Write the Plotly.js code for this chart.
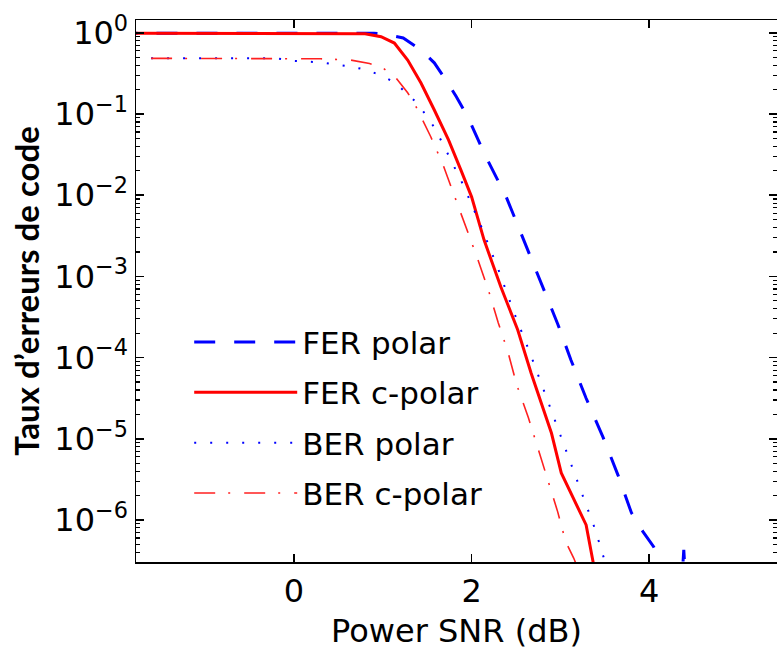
<!DOCTYPE html>
<html>
<head>
<meta charset="utf-8">
<script src="https://cdn.plot.ly/plotly-3.0.1.min.js"></script>
<style>html,body{margin:0;padding:0;background:#fff;}#chart{width:777px;height:650px;}</style>
</head>
<body>
<div id="chart"></div>
<script>
// ---- Data ----
const ferPolarX = [-2, 0.9, 1.01, 1.23, 1.43, 1.58, 1.71, 1.83, 1.96, 2.14, 2.39, 2.61, 2.81, 2.97, 3.12, 3.29, 3.48, 3.65, 3.80, 3.93, 4.05, 4.2, 4.3, 4.39, 4.48];
const ferPolarY = [0.99, 0.99, 0.966, 0.863, 0.617, 0.427, 0.263, 0.162, 0.0912, 0.0331, 0.00955, 0.0024, 7.1e-4, 2.6e-4, 9.3e-5, 3.16e-5, 1.05e-5, 3.55e-6, 1.23e-6, 7.2e-7, 4.7e-7, 2e-7, 1e-8, 4.3e-7, 1e-8];

const ferCpolarX = [-2, 0.6, 0.8, 0.98, 1.13, 1.28, 1.43, 1.58, 1.74, 1.88, 2.0, 2.14, 2.33, 2.52, 2.67, 2.90, 3.01, 3.29, 3.40];
const ferCpolarY = [0.99, 0.99, 0.975, 0.895, 0.748, 0.462, 0.241, 0.112, 0.0479, 0.0204, 0.00955, 0.00282, 7.4e-4, 2.19e-4, 6.46e-5, 1.17e-5, 3.8e-6, 8.7e-7, 2e-7];

const berPolarX = [-1.61, -0.2, -0.03, 0.30, 0.65, 0.82, 0.99, 1.14, 1.40, 1.59, 1.75, 1.90, 2.11, 2.30, 2.48, 2.67, 2.85, 3.03, 3.21, 3.39, 3.49, 3.6];
const berPolarY = [0.485, 0.485, 0.453, 0.433, 0.383, 0.348, 0.296, 0.243, 0.132, 0.066, 0.0295, 0.0138, 0.00407, 0.00123, 3.55e-4, 1.05e-4, 3.09e-5, 8.9e-6, 2.63e-6, 7.76e-7, 3.39e-7, 1e-7];

const berCpolarX = [-1.61, 0.30, 0.64, 0.85, 1.01, 1.15, 1.28, 1.37, 1.54, 1.68, 1.81, 1.95, 2.06, 2.19, 2.30, 2.41, 2.51, 2.64, 2.74, 2.86, 2.97, 3.06, 3.15, 3.22];
const berCpolarY = [0.485, 0.479, 0.462, 0.42, 0.363, 0.277, 0.183, 0.126, 0.0525, 0.0235, 0.0096, 0.0038, 0.00174, 6.76e-4, 2.69e-4, 1.17e-4, 4.57e-5, 1.82e-5, 8.1e-6, 3.24e-6, 1.26e-6, 5.4e-7, 3.4e-7, 2.2e-7];

const seriesNames = ["FER polar", "FER c-polar", "BER polar", "BER c-polar"];

const xTickVals = [0, 2, 4];
const xTickText = ["0", "2", "4"];
const yTickVals = [1e-6, 1e-5, 1e-4, 1e-3, 1e-2, 1e-1, 1];
const yTickText = ["10<sup>−6</sup>", "10<sup>−5</sup>", "10<sup>−4</sup>", "10<sup>−3</sup>", "10<sup>−2</sup>", "10<sup>−1</sup>", "10<sup>0</sup>"];

// minor tick positions (2..9 x each decade)
const yMinorVals = [];
for (let e = -7; e <= 0; e++) for (let m = 2; m <= 9; m++) yMinorVals.push(m * Math.pow(10, e));

const FONT = "DejaVu Sans";

const traces = [
  {x: ferPolarX, y: ferPolarY, name: seriesNames[0], mode: "lines", legendgroup: "a",
   line: {color: "#0000ff", width: 3, dash: "21px,19px"}},
  {x: ferCpolarX, y: ferCpolarY, name: seriesNames[1], mode: "lines", legendgroup: "b",
   line: {color: "#ff0000", width: 3}},
  {x: berPolarX, y: berPolarY, name: seriesNames[2], mode: "lines", legendgroup: "c",
   line: {color: "#0000ff", width: 2, dash: "2px,14px"}},
  {x: berCpolarX, y: berCpolarY, name: seriesNames[3], mode: "lines", legendgroup: "d",
   line: {color: "#ff2020", width: 1.6, dash: "21px,13px,2px,14px"}}
];

const layout = {
  width: 777, height: 650,
  margin: {l: 136, r: 0, t: 20, b: 88},
  paper_bgcolor: "#fff", plot_bgcolor: "#fff",
  font: {family: FONT, size: 31, color: "#000"},
  showlegend: true,
  legend: {x: 0.083, y: 0.455, xanchor: "left", yanchor: "top", bgcolor: "rgba(0,0,0,0)",
           font: {family: FONT, size: 31, color: "#000"}, itemwidth: 103,
           traceorder: "grouped", tracegroupgap: 7},
  xaxis: {range: [-1.78, 5.44], tickvals: xTickVals, ticktext: xTickText,
          ticks: "inside", ticklen: 8, tickwidth: 1.5, tickcolor: "#000",
          showline: true, linecolor: "#000", linewidth: 1.5, mirror: "ticks",
          showgrid: false, zeroline: false,
          tickfont: {family: FONT, size: 32},
          title: {text: "Power SNR (dB)", font: {family: FONT, size: 32}, standoff: 12}},
  yaxis: {type: "log", range: [-6.517, 0.158], tickvals: yTickVals, ticktext: yTickText,
          ticks: "inside", ticklen: 8, tickwidth: 1.5, tickcolor: "#000",
          showline: true, linecolor: "#000", linewidth: 1.5, mirror: "ticks",
          showgrid: false, zeroline: false,
          minor: {tickvals: yMinorVals, ticks: "inside", ticklen: 4, tickwidth: 1.2, tickcolor: "#000", showgrid: false},
          tickfont: {family: FONT, size: 32},
          title: {text: "Taux d’erreurs de code", font: {family: "Lato", size: 33, weight: "bold"}, standoff: 5}}
};

Plotly.newPlot("chart", traces, layout, {displayModeBar: false, staticPlot: true});
</script>
</body>
</html>
